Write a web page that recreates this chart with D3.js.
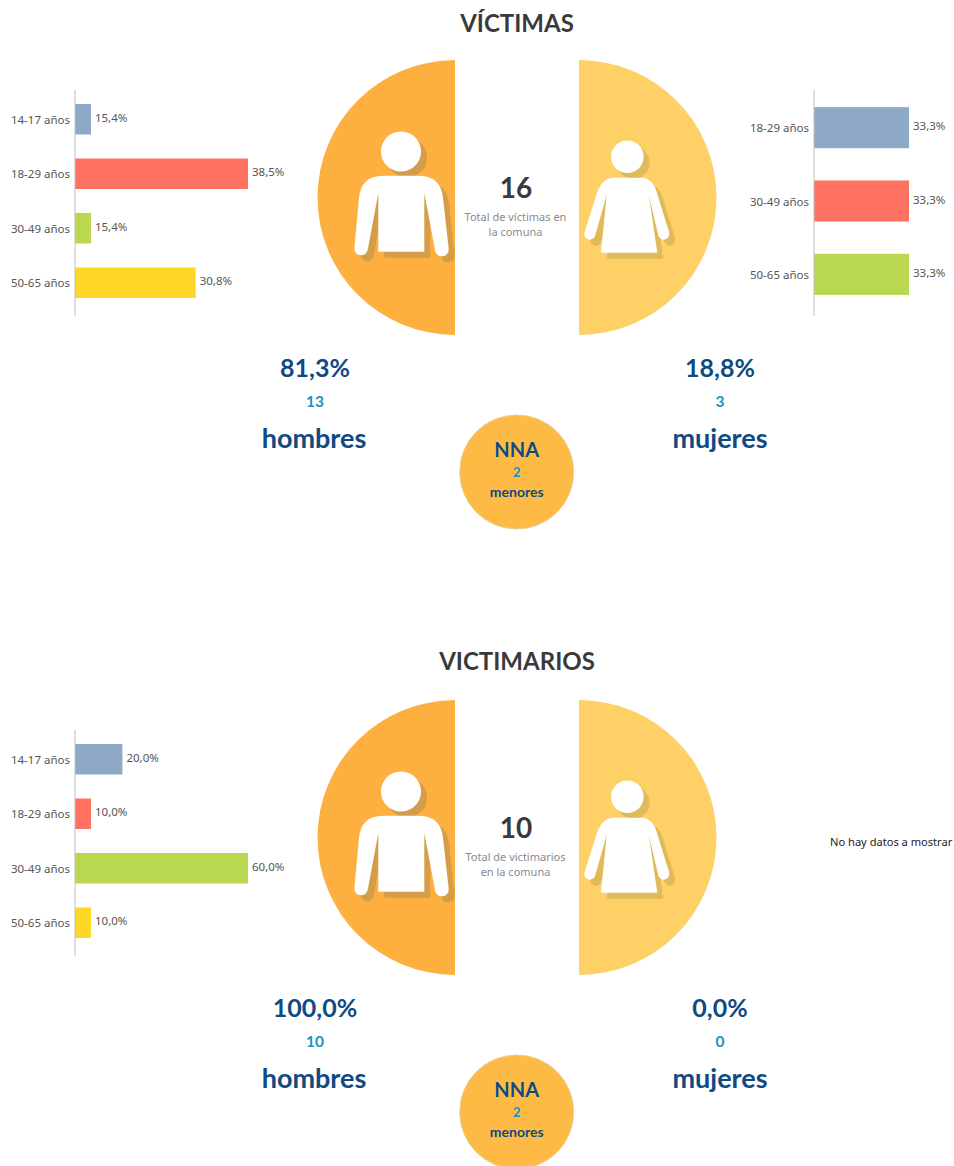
<!DOCTYPE html>
<html>
<head>
<meta charset="utf-8">
<script src="https://cdn.jsdelivr.net/npm/d3@7"></script>
<style>
  html, body { margin: 0; background: #fff; overflow: hidden; }
  svg { display: block; }
</style>
</head>
<body>
<script>
const width = 954;
const height = 1166;

const ages4 = ["14-17 años", "18-29 años", "30-49 años", "50-65 años"];
const ages3 = ["18-29 años", "30-49 años", "50-65 años"];
const colors = ["#8ea9c8", "#ff7161", "#bad751", "#ffd726"];

const victimMen = [15.4, 38.5, 15.4, 30.8];
const victimWomen = [33.3, 33.3, 33.3];
const offenderMen = [20.0, 10.0, 60.0, 10.0];

// the original axes do not start at zero
const victimMenDomain = [13.05, 38.5];
const victimWomenDomain = [0, 33.3];
const offenderMenDomain = [4.9, 60];

const fmt = v => v.toFixed(1).replace(".", ",") + "%";

const big = "Lato, sans-serif";
const small = "'Noto Sans', sans-serif";
const navy = "#0f4a82";
const cyan = "#2190c0";

const malePath = "M378.3,251.7L378.3,193L367.7,250A6.8,6.8 0 0 1 354.3,249L359,198Q361,176 383,175.7L419,175.7Q441,176 443,198L448.7,249A6.8,6.8 0 0 1 435,250L424.3,193L424.3,251.7Z";
const femalePath = "M601,252.7L606.7,195L595,236A5.6,5.6 0 0 1 584.5,232L597,193Q602,178 614,177.7L641,177.7Q653,178 657,193L669,232A5.6,5.6 0 0 1 658.5,236L649,196L657.3,252.7Z";

const svg = d3.select("body").append("svg")
    .attr("width", width)
    .attr("height", height)
    .attr("viewBox", [0, 0, width, height]);

const arc = d3.arc().innerRadius(0).outerRadius(137.5);

function barChart(g, labels, values, domain, x0, x1, y0, y1) {
  const x = d3.scaleLinear().domain(domain).range([x0, x1]);
  const y = d3.scaleBand().domain(labels).range([y0, y1]).paddingInner(0.44).paddingOuter(0.22);

  g.selectAll("rect.bar")
    .data(values)
    .join("rect")
      .attr("class", "bar")
      .attr("x", x0)
      .attr("y", (d, i) => y(labels[i]))
      .attr("width", d => x(d) - x0)
      .attr("height", y.bandwidth())
      .attr("fill", (d, i) => colors[i]);

  g.append("line")
      .attr("x1", x0).attr("x2", x0)
      .attr("y1", 90).attr("y2", 316)
      .attr("stroke", "#bfbfbf");

  const axis = g.append("g")
      .attr("transform", `translate(${x0},1)`)
      .call(d3.axisLeft(y).tickSize(0).tickPadding(5));
  axis.select(".domain").remove();
  axis.selectAll("text")
      .attr("font-family", small)
      .attr("font-size", 11.5)
      .attr("fill", "#555");

  g.selectAll("text.val")
    .data(values)
    .join("text")
      .attr("class", "val")
      .attr("x", d => x(d) + 4)
      .attr("y", (d, i) => y(labels[i]) + y.bandwidth() / 2 - 1)
      .attr("dy", "0.32em")
      .attr("font-family", small)
      .attr("font-size", 11.5)
      .attr("fill", "#555")
      .text(fmt);
}

function person(g, id, cx, startAngle, endAngle, color, shadow, path, head) {
  g.append("clipPath").attr("id", id)
    .append("path")
      .attr("transform", `translate(${cx},197.5)`)
      .attr("d", arc({ startAngle, endAngle }));

  g.append("path")
      .attr("transform", `translate(${cx},197.5)`)
      .attr("d", arc({ startAngle, endAngle }))
      .attr("fill", color);

  const sh = g.append("g").attr("clip-path", `url(#${id})`).append("g")
      .attr("transform", "translate(6,6)")
      .attr("fill", shadow);
  sh.append("circle").attr("cx", head[0]).attr("cy", head[1]).attr("r", head[2]);
  sh.append("path").attr("d", path);

  g.append("circle").attr("cx", head[0]).attr("cy", head[1]).attr("r", head[2]).attr("fill", "#fff");
  g.append("path").attr("d", path).attr("fill", "#fff");
}

function label(g, txt, x, y, size, color, weight, family) {
  g.append("text")
      .attr("x", x).attr("y", y)
      .attr("text-anchor", "middle")
      .attr("font-family", family || big)
      .attr("font-size", size)
      .attr("font-weight", weight || 700)
      .attr("fill", color)
      .text(txt);
}

function panel(id, dy, p) {
  const g = svg.append("g").attr("transform", `translate(0,${dy})`);

  label(g, p.title, 517, p.titleY, 24, "#3a3a3a");

  person(g, id + "m", 455, -Math.PI, 0, "#fdb03f", "#d59d47", malePath, [401, 151.5, 20]);
  person(g, id + "f", 579, 0, Math.PI, "#fed065", "#dfb95c", femalePath, [627.3, 156.7, 16.3]);

  label(g, p.total, 516, 198, 28, "#3a3a3a");
  label(g, p.caption[0], 515.5, 220.5, 11, "#8a8a8a", 400, small);
  label(g, p.caption[1], 515.5, 235.5, 11, "#8a8a8a", 400, small);

  label(g, p.menPct, 315, 376.5, 25, navy);
  label(g, p.menCount, 315, 406.5, 15.5, cyan);
  label(g, "hombres", 314, 448, 27, navy);

  label(g, p.womenPct, 720, 376.5, 25, navy);
  label(g, p.womenCount, 720, 406.5, 15.5, cyan);
  label(g, "mujeres", 720, 448, 27, navy);

  g.append("circle")
      .attr("cx", 516.7).attr("cy", 472).attr("r", 57)
      .attr("fill", "#fdbb45")
      .attr("stroke", "#e8cf9a");
  label(g, "NNA", 516.7, 457, 20, navy);
  label(g, p.minors, 516.7, 476.5, 13, cyan);
  label(g, "menores", 516.7, 497, 14, navy);

  return g;
}

const top_ = panel("a", 0, {
  title: "VÍCTIMAS", titleY: 31.5, total: "16",
  caption: ["Total de víctimas en", "la comuna"],
  menPct: "81,3%", menCount: "13",
  womenPct: "18,8%", womenCount: "3",
  minors: "2"
});
barChart(top_.append("g"), ages4, victimMen, victimMenDomain, 75, 248, 92, 310);
barChart(top_.append("g"), ages3, victimWomen, victimWomenDomain, 814, 909, 91, 311);

const bottom = panel("b", 640, {
  title: "VICTIMARIOS", titleY: 30, total: "10",
  caption: ["Total de victimarios", "en la comuna"],
  menPct: "100,0%", menCount: "10",
  womenPct: "0,0%", womenCount: "0",
  minors: "2"
});
barChart(bottom.append("g"), ages4, offenderMen, offenderMenDomain, 75, 248, 92, 310);

bottom.append("text")
    .attr("x", 830).attr("y", 205.5)
    .attr("font-family", small)
    .attr("font-size", 11.1)
    .attr("fill", "#222")
    .text("No hay datos a mostrar");
</script>
</body>
</html>
